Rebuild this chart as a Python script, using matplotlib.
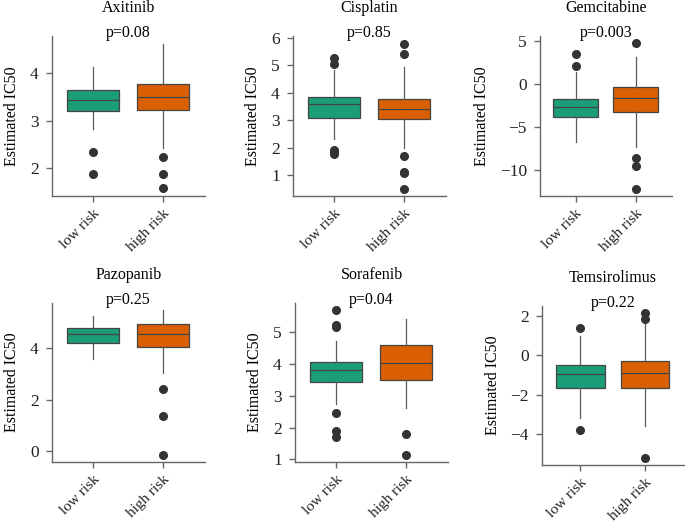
import matplotlib
matplotlib.use("Agg")
import matplotlib.pyplot as plt

# ==============================================================================
# Data
# ==============================================================================
drugs = ["Axitinib", "Cisplatin", "Gemcitabine", "Pazopanib", "Sorafenib", "Temsirolimus"]
p_values = ["p=0.08", "p=0.85", "p=0.003", "p=0.25", "p=0.04", "p=0.22"]
groups = ["low risk", "high risk"]

# [whisker low, q1, median, q3, whisker high]
low_stats = [
    [2.82, 3.19, 3.43, 3.64, 4.13],
    [2.30, 3.08, 3.57, 3.84, 4.82],
    [-6.7, -3.87, -2.71, -1.74, 1.43],
    [3.58, 4.21, 4.53, 4.76, 5.23],
    [2.74, 3.45, 3.82, 4.05, 4.74],
    [-3.17, -1.64, -0.93, -0.47, 0.98],
]
high_stats = [
    [2.43, 3.22, 3.50, 3.76, 4.62],
    [1.97, 3.04, 3.42, 3.78, 4.92],
    [-7.3, -3.29, -1.66, -0.31, 3.1],
    [3.05, 4.05, 4.53, 4.94, 5.45],
    [2.61, 3.51, 4.02, 4.61, 5.42],
    [-3.6, -1.64, -0.90, -0.30, 1.6],
]
low_fliers = [
    [2.34, 1.88],
    [5.25, 5.03, 1.93, 1.85, 1.78],
    [3.49, 2.09],
    [],
    [5.70, 5.23, 5.18, 2.47, 1.88, 1.72],
    [1.40, -3.77],
]
high_fliers = [
    [2.24, 1.87, 1.57],
    [5.78, 5.42, 1.69, 1.13, 1.07, 0.49],
    [4.73, -8.57, -9.5, -12.2],
    [2.40, 1.36, -0.13],
    [1.81, 1.15],
    [2.16, 1.83, -5.2],
]
y_ticks = [
    [2, 3, 4],
    [1, 2, 3, 4, 5, 6],
    [-10, -5, 0, 5],
    [0, 2, 4],
    [1, 2, 3, 4, 5],
    [-4, -2, 0, 2],
]

# ==============================================================================
# Layout
# ==============================================================================
W, H = 685, 524
# axes boxes in pixels: left, right, top, bottom
AX_PX = [
    (52, 205, 36, 196),
    (293, 446, 36, 196),
    (540, 672, 36, 196),
    (52, 205, 303, 462),
    (295, 448, 303, 462),
    (542, 684, 306, 465),
]
Y_LIMS = [(1.41, 4.78), (0.24, 6.06), (-13.0, 5.58),
          (-0.41, 5.74), (0.92, 5.92), (-5.57, 2.51)]
COLORS = ["#1B9E77", "#D95F02"]
EDGE = "#444444"
AXIS = "#666666"

plt.rcParams["font.family"] = ["Liberation Serif", "DejaVu Serif"]

fig = plt.figure(figsize=(W / 100, H / 100), dpi=100)

for i, drug in enumerate(drugs):
    l, r, t, b = AX_PX[i]
    ax = fig.add_axes([l / W, 1 - b / H, (r - l) / W, (b - t) / H])

    bxp_stats = []
    for st, fl, lab in [(low_stats[i], low_fliers[i], groups[0]),
                        (high_stats[i], high_fliers[i], groups[1])]:
        bxp_stats.append(dict(whislo=st[0], q1=st[1], med=st[2], q3=st[3],
                              whishi=st[4], fliers=fl, label=lab))

    bp = ax.bxp(bxp_stats, positions=[0, 1], widths=0.75, patch_artist=True,
                showcaps=False,
                boxprops=dict(edgecolor=EDGE, linewidth=0.9),
                medianprops=dict(color=EDGE, linewidth=0.9),
                whiskerprops=dict(color="#5a5a5a", linewidth=0.9),
                flierprops=dict(marker="o", markerfacecolor="#333333",
                                markeredgecolor="#333333", markersize=5.5))
    for patch, c in zip(bp["boxes"], COLORS):
        patch.set_facecolor(c)

    ax.set_xlim(-0.59, 1.6)
    ax.set_ylim(*Y_LIMS[i])
    ax.set_yticks(y_ticks[i])
    ax.set_xticks([0, 1])
    ax.set_xticklabels(groups, rotation=45, ha="right", rotation_mode="anchor",
                       fontsize=11)
    ax.tick_params(axis="y", labelsize=12.5, pad=5)
    ax.tick_params(axis="x", pad=3)
    ax.tick_params(colors=AXIS, labelcolor="#222222", length=4.5, width=1.0)
    ax.set_ylabel("Estimated IC50", fontsize=11.5, labelpad=7)

    for side in ["top", "right"]:
        ax.spines[side].set_visible(False)
    for side in ["left", "bottom"]:
        ax.spines[side].set_color(AXIS)
        ax.spines[side].set_linewidth(1.0)

    ax.annotate(drug, xy=(0.5, 1.0), xycoords="axes fraction",
                xytext=(0, 20), textcoords="offset points",
                ha="center", va="center", fontsize=11.5)
    ax.annotate(p_values[i], xy=(0.5, 1.0), xycoords="axes fraction",
                xytext=(0, 2), textcoords="offset points",
                ha="center", va="center", fontsize=11.5)

plt.savefig("out.png", dpi=100)
